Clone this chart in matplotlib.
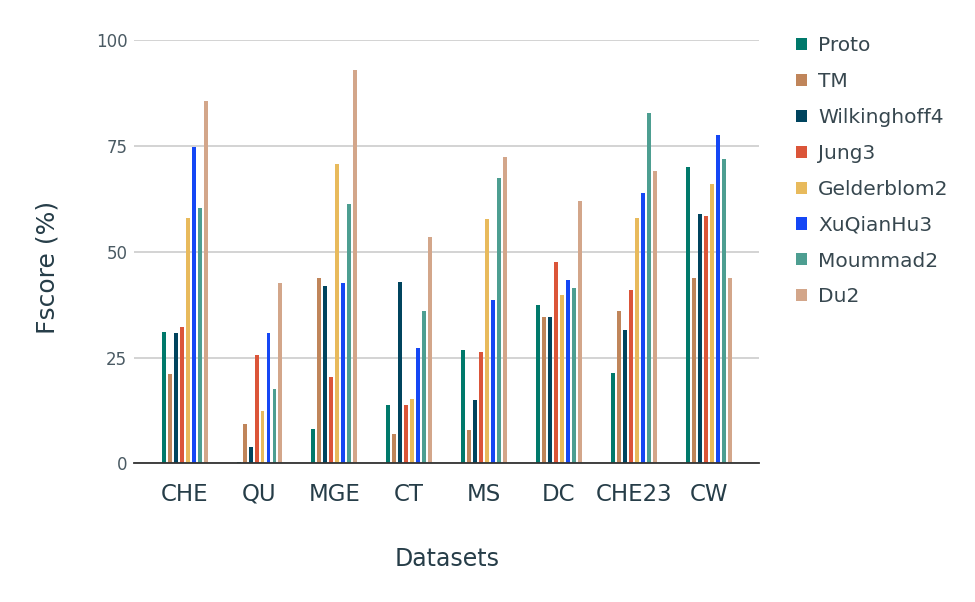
import numpy as np
import matplotlib.pyplot as plt

# ---------------------------  DATA  -------------------------------------- #
datasets = ['CHE', 'QU', 'MGE', 'CT', 'MS', 'DC', 'CHE23', 'CW']
methods = ['Proto', 'TM', 'Wilkinghoff4', 'Jung3', 'Gelderblom2',
           'XuQianHu3', 'Moummad2', 'Du2']

proto        = [31.1, 0.2, 8.0, 13.7, 26.9, 37.5, 21.4, 70.1]
tm           = [21.0, 9.4, 43.9, 6.9, 7.8, 34.7, 35.9, 43.9]
wilkinghoff4 = [30.7, 3.8, 41.8, 42.9, 14.9, 34.7, 31.4, 59.0]
jung3        = [32.2, 25.5, 20.5, 13.9, 26.4, 47.5, 40.9, 58.5]
gelderblom2  = [58.1, 12.3, 70.7, 15.1, 57.8, 39.7, 58.1, 66.1]
xuqianhu3    = [74.7, 30.7, 42.6, 27.2, 38.5, 43.4, 64.0, 77.7]
moummad2     = [60.3, 17.5, 61.2, 36.1, 67.5, 41.4, 82.9, 72.0]
du2          = [85.6, 42.6, 92.9, 53.6, 72.5, 62.1, 69.2, 43.9]

scores = [proto, tm, wilkinghoff4, jung3, gelderblom2, xuqianhu3, moummad2, du2]
colors = ['#00796B', '#C0855A', '#00445E', '#DB5539', '#E8BA5C',
          '#1547F5', '#4D9E91', '#D3A68A']

# ---------------------------  PLOT  -------------------------------------- #
fig = plt.figure(figsize=(9.75, 6.02), dpi=100)
ax = fig.add_axes([0.1377, 0.2304, 0.6411, 0.7026])

x = np.arange(len(datasets))
step = 0.08
width = 0.053
for i, (name, vals, c) in enumerate(zip(methods, scores, colors)):
    ax.bar(x + (i - 3.5) * step, vals, width, color=c, label=name, zorder=3)

ax.set_xlim(-0.673, 7.676)
ax.set_ylim(0, 100)
ax.set_yticks([0, 25, 50, 75, 100])
ax.grid(axis='y', color='#CCCCCC', linewidth=1.2, zorder=0)
for s in ['top', 'right', 'left']:
    ax.spines[s].set_visible(False)
ax.spines['bottom'].set_color('#333333')
ax.spines['bottom'].set_linewidth(1.3)
ax.spines['bottom'].set_zorder(4)

ax.set_xticks(x)
ax.set_xticklabels(datasets, fontsize=16.5, color='#263D48')
ax.tick_params(axis='x', length=0, pad=14)
ax.tick_params(axis='y', length=0, pad=5, labelsize=12, labelcolor='#4A5A63')

ax.set_xlabel('Datasets', fontsize=17, color='#263D48', labelpad=30)
ax.set_ylabel('Fscore (%)', fontsize=18, color='#263D48')
ax.yaxis.set_label_coords(-0.119, 0.462)

leg = ax.legend(loc='upper left', bbox_to_anchor=(1.03, 1.053), frameon=False,
                fontsize=14.5, handlelength=0.55, handleheight=0.55,
                handletextpad=0.55, labelspacing=0.84, labelcolor='#37474F')

plt.savefig('out.png', dpi=100)
